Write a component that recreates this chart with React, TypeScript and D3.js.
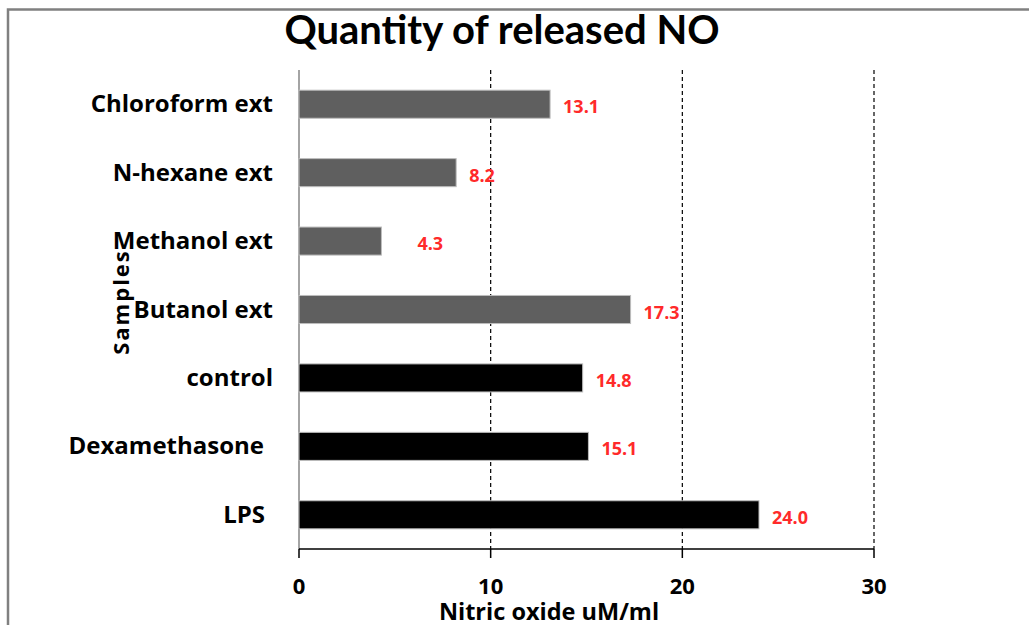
import React from "react";
import * as d3 from "d3";

const categories = [
  "Chloroform ext",
  "N-hexane ext",
  "Methanol ext",
  "Butanol ext",
  "control",
  "Dexamethasone",
  "LPS",
];
const values = [13.1, 8.2, 4.3, 17.3, 14.8, 15.1, 24.0];
const groups = ["extract", "extract", "extract", "extract", "reference", "reference", "reference"];
const xTicks = [0, 10, 20, 30];
const title = "Quantity of released NO";
const xTitle = "Nitric oxide uM/ml";
const yTitle = "Samples";

const W = 1029;
const H = 625;
const TFONT = "Lato, 'Open Sans', sans-serif";
const FONT = "'Open Sans', Lato, sans-serif";

export default function App() {
  const x = d3.scaleLinear().domain([0, 30]).range([299, 874]);
  const y = d3
    .scaleBand<string>()
    .domain(categories)
    .range([70, 549])
    .paddingInner(0.59)
    .paddingOuter(0.295);
  const bw = y.bandwidth();
  const labelNudge: Record<string, number> = { "Methanol ext": 23 };
  const catNudge: Record<string, number> = { Dexamethasone: -9, LPS: -8 };
  const color = (g: string) => (g === "extract" ? "#5f5f5f" : "#000000");

  return (
    <svg
      width={W}
      height={H}
      style={{ position: "absolute", left: 0, top: 0, background: "#fff" }}
    >
      <rect x={0} y={0} width={W} height={H} fill="#ffffff" />
      <path d={`M8,${H} V9.5 H${W}`} fill="none" stroke="#808080" strokeWidth={2.5} />

      <text
        x={502}
        y={44}
        textAnchor="middle"
        fontFamily={TFONT}
        fontWeight="bold"
        fontSize={40}
        fill="#000"
      >
        {title}
      </text>

      {/* gridlines */}
      {xTicks
        .filter((t) => t > 0)
        .map((t) => (
          <line
            key={`g${t}`}
            x1={x(t)}
            x2={x(t)}
            y1={70}
            y2={549}
            stroke="#000"
            strokeWidth={1.2}
            strokeDasharray="4,3"
          />
        ))}

      {/* y axis line */}
      <line x1={x(0)} x2={x(0)} y1={70} y2={549} stroke="#868686" strokeWidth={1.5} />

      {/* bars */}
      {categories.map((c, i) => (
        <rect
          key={c}
          x={x(0)}
          y={y(c)!}
          width={x(values[i]) - x(0)}
          height={bw}
          fill={color(groups[i])}
          stroke="#bdbdbd"
          strokeWidth={1}
        />
      ))}

      {/* value labels */}
      {categories.map((c, i) => (
        <text
          key={`v${c}`}
          x={x(values[i]) + 13 + (labelNudge[c] || 0)}
          y={y(c)! + bw / 2 + 9}
          fontFamily={FONT}
          fontWeight="bold"
          fontSize={18}
          fill="#ff2a2a"
        >
          {values[i].toFixed(1)}
        </text>
      ))}

      {/* category labels */}
      {categories.map((c) => (
        <text
          key={`c${c}`}
          x={273 + (catNudge[c] || 0)}
          y={y(c)! + bw / 2 + 8}
          textAnchor="end"
          fontFamily={FONT}
          fontWeight="bold"
          fontSize={24}
          fill="#000"
        >
          {c}
        </text>
      ))}

      {/* x axis */}
      <line x1={x(0)} x2={x(30)} y1={549} y2={549} stroke="#000" strokeWidth={1.5} />
      {xTicks.map((t) => (
        <g key={`t${t}`}>
          <line x1={x(t)} x2={x(t)} y1={549} y2={558} stroke="#000" strokeWidth={1.5} />
          <text
            x={x(t)}
            y={594}
            textAnchor="middle"
            fontFamily={FONT}
            fontWeight="bold"
            fontSize={22}
            fill="#000"
          >
            {t}
          </text>
        </g>
      ))}

      <text
        x={549}
        y={620}
        textAnchor="middle"
        fontFamily={FONT}
        fontWeight="bold"
        fontSize={23.5}
        fill="#000"
      >
        {xTitle}
      </text>

      <text
        transform="translate(129,302) rotate(-90)"
        textAnchor="middle"
        fontFamily={FONT}
        fontWeight="bold"
        fontSize={22}
        letterSpacing={2}
        fill="#000"
      >
        {yTitle}
      </text>
    </svg>
  );
}
